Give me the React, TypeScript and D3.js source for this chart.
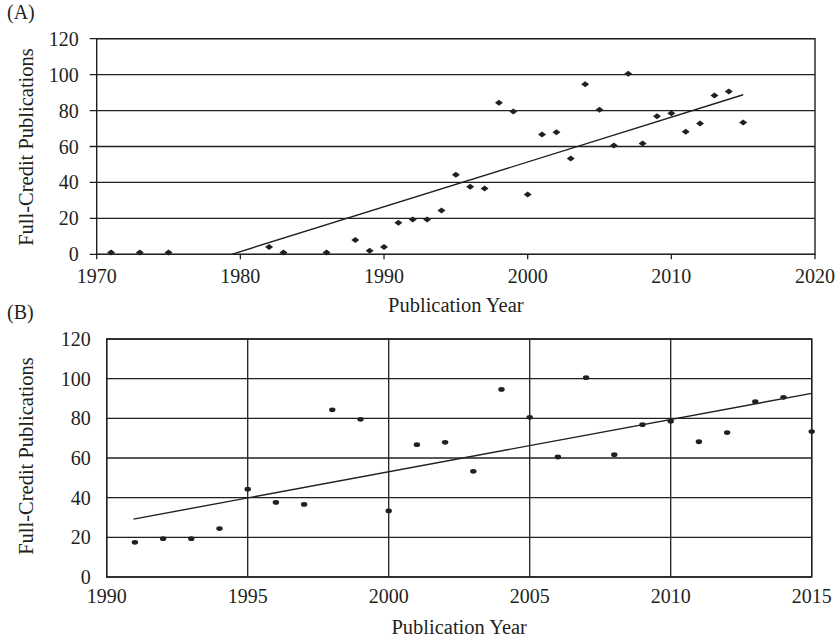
import React, { useEffect, useRef } from 'react';
import * as d3 from 'd3';

// years with full-credit publications before 1991 (panel A only)
const earlyYears = [1971, 1973, 1975, 1982, 1983, 1986, 1988, 1989, 1990];
const earlyValues = [1, 1, 1, 4, 1, 1, 8, 2, 4];

// 1991-2015 (both panels)
const years = [1991, 1992, 1993, 1994, 1995, 1996, 1997, 1998, 1999, 2000, 2001, 2002, 2003,
  2004, 2005, 2006, 2007, 2008, 2009, 2010, 2011, 2012, 2013, 2014, 2015];
const values = [17.5, 19.3, 19.3, 24.4, 44.3, 37.6, 36.6, 84.3, 79.5, 33.3, 66.7, 67.9, 53.3,
  94.6, 80.5, 60.5, 100.5, 61.7, 76.8, 78.5, 68.2, 72.8, 88.4, 90.6, 73.3];

// trend line end points
const trendA = [[1979.4, 0], [2015, 88.8]];
const trendB = [[1990.95, 29.2], [2015, 92.6]];

const yTicks = [0, 20, 40, 60, 80, 100, 120];
const xTicksA = [1970, 1980, 1990, 2000, 2010, 2020];
const xTicksB = [1990, 1995, 2000, 2005, 2010, 2015];

const INK = '#231f20';
const FONT = '"Liberation Serif", "Times New Roman", serif';

const App = () => {
  const svgRef = useRef<SVGSVGElement>(null);

  useEffect(() => {
    const svg = d3.select(svgRef.current);
    svg.selectAll('*').remove();

    const drawPanel = (opts: any) => {
      const { x, y, xTicks, label, pts, trend, marker, vgrid, outTicks, tickBase, titleBase, labelY } = opts;
      const g = svg.append('g');
      const [x0, x1] = x.range();
      const [y0, y1] = y.range();

      // panel letter
      g.append('text').attr('x', 7).attr('y', y1 - 20)
        .attr('font-size', 20).attr('font-family', FONT).attr('fill', INK).text(label);

      // horizontal grid lines
      g.selectAll('.hg').data(yTicks).enter().append('line')
        .attr('x1', outTicks ? x0 - 7 : x0).attr('x2', x1)
        .attr('y1', d => y(d)).attr('y2', d => y(d))
        .attr('stroke', INK).attr('stroke-width', 1.3);

      if (vgrid) {
        g.selectAll('.vg').data(xTicks).enter().append('line')
          .attr('x1', d => x(d)).attr('x2', d => x(d))
          .attr('y1', y0).attr('y2', y1)
          .attr('stroke', INK).attr('stroke-width', 1.3);
      }

      // frame
      g.append('rect').attr('x', x0).attr('y', y1).attr('width', x1 - x0).attr('height', y0 - y1)
        .attr('fill', 'none').attr('stroke', INK).attr('stroke-width', 1.4);

      if (outTicks) {
        g.selectAll('.xt').data(xTicks).enter().append('line')
          .attr('x1', d => x(d)).attr('x2', d => x(d))
          .attr('y1', y0).attr('y2', y0 + 5)
          .attr('stroke', INK).attr('stroke-width', 1.3);
      }

      // tick labels
      g.selectAll('.yl').data(yTicks).enter().append('text')
        .attr('x', x0 - (outTicks ? 18 : 16)).attr('y', d => y(d)).attr('dy', '0.35em')
        .attr('text-anchor', 'end').attr('font-size', 20).attr('font-family', FONT).attr('fill', INK)
        .text(d => d);
      g.selectAll('.xl').data(xTicks).enter().append('text')
        .attr('x', d => x(d)).attr('y', tickBase)
        .attr('text-anchor', 'middle').attr('font-size', 20).attr('font-family', FONT).attr('fill', INK)
        .text(d => d);

      // axis titles
      g.append('text').attr('x', (x0 + x1) / 2).attr('y', titleBase)
        .attr('text-anchor', 'middle').attr('font-size', 20.5).attr('font-family', FONT).attr('fill', INK)
        .text('Publication Year');
      g.append('text')
        .attr('transform', `translate(33,${labelY}) rotate(-90)`)
        .attr('text-anchor', 'middle').attr('font-size', 20.5).attr('font-family', FONT).attr('fill', INK)
        .text('Full-Credit Publications');

      // trend line
      g.append('path')
        .attr('d', d3.line().x((d: any) => x(d[0])).y((d: any) => y(d[1]))(trend as any))
        .attr('fill', 'none').attr('stroke', INK).attr('stroke-width', 1.4);

      // points
      if (marker === 'diamond') {
        g.selectAll('.pt').data(pts).enter().append('path')
          .attr('transform', (d: any) => `translate(${x(d[0])},${y(d[1])})`)
          .attr('d', 'M-4,0L0,-3L4,0L0,3Z').attr('fill', INK);
      } else {
        g.selectAll('.pt').data(pts).enter().append('ellipse')
          .attr('cx', (d: any) => x(d[0])).attr('cy', (d: any) => y(d[1]))
          .attr('rx', 3.2).attr('ry', 2.4).attr('fill', INK);
      }
    };

    const ptsB = years.map((yr, i) => [yr, values[i]]);
    const ptsA = earlyYears.map((yr, i) => [yr, earlyValues[i]]).concat(ptsB);

    drawPanel({
      x: d3.scaleLinear().domain([1970, 2020]).range([96.7, 815]),
      y: d3.scaleLinear().domain([0, 120]).range([254.3, 38.7]),
      xTicks: xTicksA, label: '(A)', pts: ptsA, trend: trendA, marker: 'diamond',
      vgrid: false, outTicks: true, tickBase: 283, titleBase: 312, labelY: 147,
    });
    drawPanel({
      x: d3.scaleLinear().domain([1990, 2015]).range([106.7, 811.7]),
      y: d3.scaleLinear().domain([0, 120]).range([577, 339]),
      xTicks: xTicksB, label: '(B)', pts: ptsB, trend: trendB, marker: 'dot',
      vgrid: true, outTicks: false, tickBase: 603, titleBase: 634, labelY: 456,
    });
  }, []);

  return (
    <svg ref={svgRef} width={838} height={641}
      style={{ position: 'absolute', left: 0, top: 0, background: '#fff' }} />
  );
};

export default App;
